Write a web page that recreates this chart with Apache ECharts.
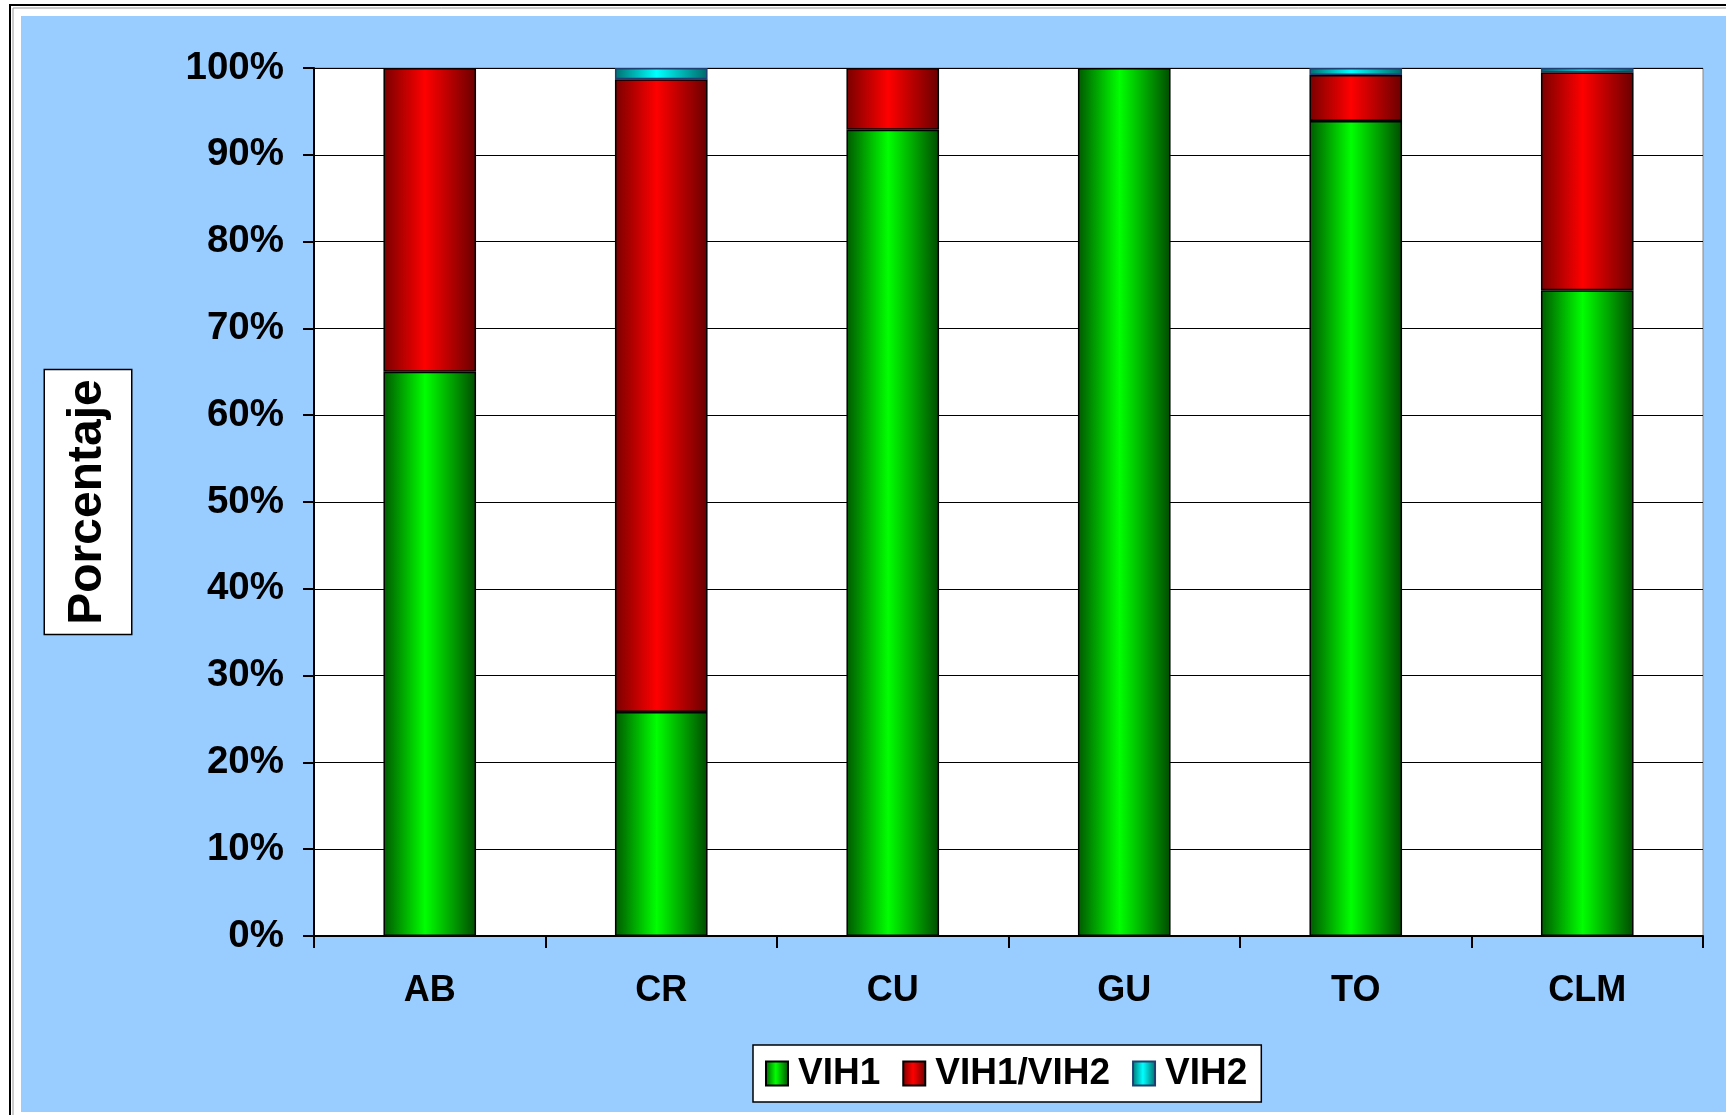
<!DOCTYPE html>
<html>
<head>
<meta charset="utf-8">
<style>html,body{margin:0;padding:0;background:#fff;}#c{width:1726px;height:1115px;}</style>
<script src="https://cdn.jsdelivr.net/npm/echarts@6/dist/echarts.min.js"></script>
</head>
<body>
<div id="c"></div>
<script>
const categories = ['AB', 'CR', 'CU', 'GU', 'TO', 'CLM'];
const vih1 = [65, 25.8, 92.9, 100, 93.9, 74.4];
const vih1vih2 = [35, 72.9, 7.1, 0, 5.3, 25.1];
const vih2 = [0, 1.3, 0, 0, 0.8, 0.5];
const yTicks = [0, 10, 20, 30, 40, 50, 60, 70, 80, 90, 100];

const FONT = '"Liberation Sans", Arial, sans-serif';
const chart = echarts.init(document.getElementById('c'), null, {renderer: 'canvas'});

function grad(dark1, bright, dark2) {
  return new echarts.graphic.LinearGradient(0, 0, 1, 0, [
    {offset: 0, color: dark1},
    {offset: 0.45, color: bright},
    {offset: 1, color: dark2}
  ]);
}
const clean = arr => arr.map(v => v === 0 ? '-' : v);

chart.setOption({
  backgroundColor: '#ffffff',
  animation: false,
  graphic: [
    {type: 'rect', shape: {x: 10, y: 5, width: 1740, height: 1130}, style: {fill: '#ffffff', stroke: '#000', lineWidth: 2}, z: -10, silent: true},
    {type: 'rect', shape: {x: 13, y: 8, width: 1740, height: 1130}, style: {fill: 'none', stroke: '#999', lineWidth: 1}, z: -10, silent: true},
    {type: 'rect', shape: {x: 21, y: 16, width: 1710, height: 1096}, style: {fill: '#99ccff'}, z: -9, silent: true}
  ],
  grid: {left: 314, right: 23, top: 68, bottom: 179, show: true, backgroundColor: '#ffffff', borderColor: '#888', borderWidth: 1},
  legend: {
    left: 753, top: 1045,
    padding: [10, 14, 10, 12],
    itemGap: 22, itemWidth: 22, itemHeight: 24, icon: 'rect',
    backgroundColor: '#ffffff', borderColor: '#000', borderWidth: 1.5,
    textStyle: {fontFamily: FONT, fontWeight: 'bold', fontSize: 37, color: '#000', padding: [0, 0, 0, 5]},
    data: ['VIH1', 'VIH1/VIH2', 'VIH2']
  },
  xAxis: {
    type: 'category', data: categories,
    axisLine: {lineStyle: {color: '#000', width: 2}},
    axisTick: {show: true, length: 12, alignWithLabel: false, lineStyle: {color: '#000', width: 2}},
    axisLabel: {fontFamily: FONT, fontWeight: 'bold', fontSize: 36, color: '#000', margin: 36, lineHeight: 38}
  },
  yAxis: {
    type: 'value', min: yTicks[0], max: yTicks[yTicks.length - 1], interval: yTicks[1] - yTicks[0],
    name: 'Porcentaje', nameLocation: 'middle', nameGap: 183, nameRotate: 90,
    nameTextStyle: {fontFamily: FONT, fontWeight: 'bold', fontSize: 48, color: '#000', lineHeight: 48,
      backgroundColor: '#fff', borderColor: '#000', borderWidth: 1.5, padding: [19, 9, 19, 9]},
    axisLine: {show: true, lineStyle: {color: '#000', width: 2}},
    axisTick: {show: true, length: 11, inside: false, lineStyle: {color: '#000', width: 2}},
    splitLine: {show: true, lineStyle: {color: '#000', width: 1.2}},
    axisLabel: {fontFamily: FONT, fontWeight: 'bold', fontSize: 38.5, color: '#000', margin: 30, formatter: '{value}%'}
  },
  series: [
    {name: 'VIH1', type: 'bar', stack: 't', data: clean(vih1), barCategoryGap: '60%',
     itemStyle: {color: grad('#005a00', '#00ff00', '#004d00'), borderColor: '#000', borderWidth: 1.5}},
    {name: 'VIH1/VIH2', type: 'bar', stack: 't', data: clean(vih1vih2),
     itemStyle: {color: grad('#7a0000', '#ff0000', '#6a0000'), borderColor: '#000', borderWidth: 1.5}},
    {name: 'VIH2', type: 'bar', stack: 't', data: clean(vih2),
     itemStyle: {color: grad('#007070', '#00ffff', '#006868'), borderColor: '#1f3f70', borderWidth: 1.5}}
  ]
});
</script>
</body>
</html>
